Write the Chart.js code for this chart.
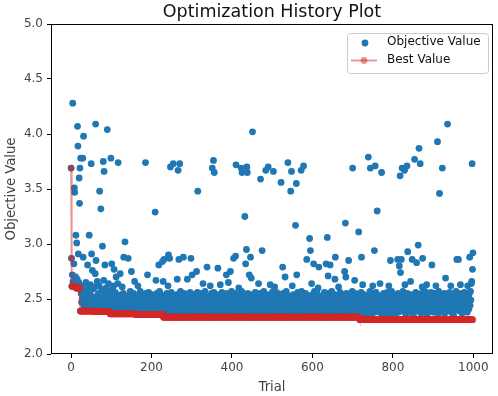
<!DOCTYPE html>
<html><head><meta charset="utf-8">
<script src="https://cdn.jsdelivr.net/npm/chart.js@4/dist/chart.umd.min.js"></script>
<style>html,body{margin:0;padding:0;background:#fff}canvas{display:block}</style>
</head><body>
<canvas id="c" width="498" height="396"></canvas>
<script>
const chartTitle = 'Optimization History Plot';
const xAxisLabel = 'Trial';
const yAxisLabel = 'Objective Value';
const seriesNames = ['Objective Value', 'Best Value'];
const xTickValues = [0, 200, 400, 600, 800, 1000];
const yTickValues = [2.0, 2.5, 3.0, 3.5, 4.0, 4.5, 5.0];

// objective value of each trial (trial number = position in the list)
const objectiveValues = [
3.69,2.87,2.615,2.72,4.28,2.66,2.64,2.82,3.51,3.47,2.63,2.70,3.08,2.60,3.01,2.68,4.07,3.89,2.91,2.65,
3.60,3.37,3.69,2.39,3.78,2.55,2.47,2.62,2.50,3.78,2.88,3.98,2.44,2.58,2.41,2.53,2.46,2.65,2.43,2.57,
2.49,2.81,2.42,2.60,2.45,3.08,2.40,2.54,2.63,2.44,3.73,2.91,2.48,2.76,2.41,2.59,2.46,2.52,2.385,2.61,
2.73,4.09,2.85,2.43,2.50,2.66,2.40,2.47,2.55,2.42,2.62,3.48,2.45,2.51,3.32,2.39,2.58,2.44,2.98,2.48,
3.75,2.67,3.66,2.53,2.81,2.41,2.46,2.60,2.43,2.50,4.04,2.57,2.40,2.64,2.45,2.52,2.42,2.365,2.55,3.78,
2.47,2.82,2.44,2.59,2.38,2.51,2.62,2.77,2.43,2.49,2.56,2.40,2.70,2.46,2.53,2.41,2.64,3.74,2.45,2.50,
2.42,2.50,2.73,2.39,2.47,2.54,2.44,2.61,2.40,2.49,2.55,2.88,2.43,2.52,3.02,2.46,2.38,2.48,2.44,2.51,
2.41,2.51,2.87,2.47,2.53,2.39,2.45,2.57,2.42,2.50,2.75,2.44,2.52,2.40,2.48,2.55,2.43,2.51,2.66,2.46,
2.36,2.52,2.44,2.50,2.41,2.49,2.62,2.38,2.46,2.54,2.43,2.50,2.57,2.40,2.47,2.54,2.42,2.53,2.45,2.39,
2.51,2.48,2.44,2.48,2.41,3.74,2.55,2.46,2.50,2.43,2.72,2.50,2.40,2.56,2.47,2.38,2.53,2.44,2.51,2.49,
2.42,2.54,2.46,2.52,2.40,2.51,2.45,2.50,2.43,3.29,2.48,2.67,2.41,2.55,2.44,2.53,2.39,2.50,2.81,2.46,
2.57,2.42,2.49,2.54,2.40,2.53,2.45,2.84,2.47,2.66,2.335,2.86,2.43,2.52,2.38,2.48,2.45,2.41,2.55,2.48,
2.40,2.62,2.90,2.44,2.51,2.87,2.37,3.70,2.47,2.56,2.42,2.49,2.52,2.39,3.73,2.45,2.53,2.36,2.50,2.43,
2.50,2.41,2.54,2.46,2.68,2.38,3.67,2.54,2.86,2.44,3.73,2.48,2.57,2.40,2.52,2.45,2.50,2.37,2.49,2.88,
2.43,2.55,2.39,2.47,2.48,2.42,2.51,2.36,2.45,2.68,2.41,2.53,2.53,2.44,2.38,2.50,2.56,2.40,2.87,2.46,
2.50,2.72,2.43,2.49,2.37,2.54,2.45,2.50,2.40,2.52,2.47,2.39,2.75,2.44,2.56,3.48,2.42,2.50,2.51,2.36,
2.48,2.41,2.55,2.45,2.48,2.38,2.51,2.43,2.64,2.47,2.40,2.53,2.44,2.57,2.37,2.49,2.50,2.42,2.79,2.46,
2.52,2.39,2.50,2.44,2.50,2.41,2.62,2.36,2.47,2.55,2.43,3.69,2.49,2.40,3.76,2.56,3.65,2.45,2.38,2.53,
2.52,2.42,2.48,2.37,2.54,2.78,2.44,2.51,2.40,2.50,2.46,2.63,2.39,2.50,2.43,2.56,2.41,2.47,2.36,2.48,
2.45,2.52,2.40,2.50,2.44,2.49,2.72,2.38,2.55,2.42,2.48,2.65,2.41,2.53,2.46,2.37,2.75,2.50,2.43,2.57,
2.40,2.51,2.53,2.44,2.87,2.47,2.39,2.55,2.42,2.89,3.72,2.49,2.36,2.50,2.45,2.52,2.41,2.60,2.46,2.38,
2.54,2.43,2.50,3.69,2.57,3.65,2.40,2.47,2.51,2.44,2.39,2.52,3.25,2.46,2.82,2.41,2.95,3.70,3.65,2.55,
2.48,2.37,2.48,2.72,2.43,2.51,2.88,2.45,2.69,2.40,2.54,4.02,2.47,2.42,2.50,2.36,2.50,2.44,2.56,2.39,
2.53,2.46,2.41,2.50,2.43,2.49,2.64,2.38,2.52,2.45,2.55,3.59,2.40,2.48,2.53,2.94,2.42,2.51,2.37,2.57,
2.44,2.50,2.52,2.41,3.67,2.47,2.54,2.39,2.45,2.50,3.70,2.43,2.52,2.36,2.49,2.63,2.40,2.46,2.55,2.42,
2.51,2.38,2.57,3.66,2.44,2.48,2.61,2.41,2.53,2.46,2.39,2.56,2.43,2.50,2.54,2.37,2.47,2.54,2.42,2.48,
2.45,2.40,3.56,2.52,2.48,2.43,2.79,2.55,2.38,2.46,2.50,2.42,2.70,2.50,2.44,2.57,2.39,2.53,2.47,3.74,
2.41,2.50,2.45,2.36,2.52,2.43,3.48,2.49,3.66,2.40,2.62,2.46,2.54,2.38,2.44,2.52,2.42,2.51,3.17,2.47,
3.55,2.72,2.43,2.56,2.39,2.50,2.45,2.51,2.41,2.53,2.37,2.48,3.67,2.57,2.44,2.40,2.52,2.46,3.71,2.48,
2.42,2.49,2.38,2.55,2.44,2.50,2.86,2.47,2.40,2.53,2.43,2.50,2.36,3.05,2.50,2.94,2.45,2.41,2.64,2.48,
2.54,2.39,2.46,2.82,2.43,2.57,2.40,2.51,2.53,2.44,2.37,2.49,2.55,2.42,2.60,2.47,2.79,2.38,2.52,2.45,
2.41,2.50,2.44,2.50,2.36,2.51,2.47,2.42,2.54,2.39,2.56,2.45,2.49,2.40,2.82,2.53,2.43,3.06,2.46,2.71,
2.38,2.55,2.44,2.52,2.81,2.41,2.50,2.47,2.57,2.37,2.43,2.52,2.54,2.45,2.40,2.54,2.68,2.88,2.42,2.49,
2.50,2.44,2.39,2.53,2.47,2.61,2.41,2.50,2.36,2.56,2.45,2.42,2.48,2.48,2.40,2.54,2.44,2.53,2.38,2.51,
2.75,2.46,3.19,2.70,2.43,2.55,2.40,2.49,2.50,2.42,2.85,2.47,2.37,2.53,2.44,2.52,2.41,2.50,2.46,2.57,
3.69,2.43,2.52,2.39,2.48,2.67,2.44,2.55,2.40,2.50,2.46,2.36,2.53,2.42,2.50,3.11,2.45,2.50,2.312,2.47,
2.41,2.56,2.88,2.43,2.50,2.63,2.37,2.45,2.54,2.40,2.48,2.48,2.35,2.44,2.52,2.42,2.50,2.47,2.39,3.79,
2.46,2.53,2.41,2.57,3.69,2.44,2.49,2.36,2.55,2.43,2.62,2.40,2.51,2.45,2.94,2.38,3.71,2.48,2.56,2.42,
2.50,3.30,2.44,2.48,2.39,2.47,2.53,2.41,2.64,2.45,2.37,2.52,3.65,2.43,2.50,2.48,2.40,2.55,2.46,2.35,
2.51,2.44,2.52,2.42,2.49,2.38,2.56,2.45,2.53,2.40,2.62,2.47,2.43,2.36,2.85,2.50,2.41,2.57,2.46,2.39,
2.54,2.43,2.48,2.50,2.40,2.52,2.45,2.37,2.50,2.44,2.50,2.42,2.86,2.55,2.38,2.47,2.80,2.53,3.62,2.74,
2.41,2.86,2.49,3.69,2.44,2.57,2.39,2.52,2.46,3.67,2.63,2.42,2.36,2.50,2.45,3.71,2.55,2.93,2.40,2.48,
2.48,2.43,2.51,2.38,2.66,2.46,2.54,2.41,2.86,2.47,2.52,2.35,2.44,2.53,3.77,2.42,2.49,2.56,2.40,2.83,
2.45,2.52,2.39,2.99,2.47,3.87,2.50,2.43,3.73,2.50,2.37,2.55,2.44,2.61,2.87,2.41,2.48,2.53,2.42,2.46,
2.57,2.40,2.51,2.44,2.63,2.36,2.49,2.45,2.54,2.42,2.48,2.47,2.39,2.52,2.43,2.56,2.41,2.81,2.48,2.44,
2.52,2.38,2.50,2.45,2.55,2.42,2.47,2.62,2.40,2.53,2.44,3.93,2.49,2.36,2.57,2.43,3.46,2.51,2.46,2.41,
2.50,2.44,2.39,3.69,2.52,2.47,2.54,2.42,2.55,2.37,2.48,2.69,2.45,2.53,2.40,2.52,4.09,2.43,2.50,2.46,
2.41,2.56,2.44,2.49,2.62,2.38,2.52,2.45,2.50,2.42,2.47,2.35,2.54,2.43,2.50,2.48,2.40,2.57,2.45,2.86,
2.50,2.42,2.48,2.86,2.44,2.53,2.39,2.47,2.63,2.41,2.55,2.46,2.37,2.51,2.44,2.52,2.42,2.49,2.56,2.40,
2.48,2.53,2.43,2.50,2.45,2.38,2.62,2.47,2.52,2.41,2.55,2.88,2.44,2.57,2.49,2.64,2.66,3.73,2.77,2.92
];

const trialNumbers = objectiveValues.map((_, i) => i);
// best value so far = running minimum of the objective values
const bestValues = [];
{ let cur = Infinity; for (const v of objectiveValues) { cur = Math.min(cur, v); bestValues.push(cur); } }

const FONT = "'DejaVu Sans', 'Liberation Sans', sans-serif";
const BLUE = '#1f77b4';
const RED_A = 'rgba(214,39,40,0.5)';

const decorPlugin = {
  id: 'decor',
  beforeDraw(chart) {
    const ctx = chart.ctx;
    ctx.save();
    ctx.fillStyle = '#fff';
    ctx.fillRect(0, 0, chart.width, chart.height);
    ctx.restore();
  },
  afterDraw(chart) {
    const ctx = chart.ctx, a = chart.chartArea;
    ctx.save();
    ctx.strokeStyle = '#000';
    ctx.lineWidth = 1;
    const l = Math.floor(a.left) + 0.5, r = Math.round(a.right) - 0.5;
    const t = Math.floor(a.top) + 0.5, b = Math.round(a.bottom) - 0.5;
    ctx.strokeRect(l, t, r - l, b - t);
    ctx.fillStyle = '#111';
    ctx.font = '17.5px ' + FONT;
    ctx.textAlign = 'center';
    ctx.textBaseline = 'alphabetic';
    ctx.fillText(chartTitle, (a.left + a.right) / 2, 17);
    const bx = 347, by = 33, bw = 141, bh = 40;
    ctx.beginPath();
    ctx.roundRect(bx + 0.5, by + 0.5, bw, bh, 3);
    ctx.fillStyle = 'rgba(255,255,255,0.8)';
    ctx.fill();
    ctx.strokeStyle = '#cccccc';
    ctx.stroke();
    ctx.fillStyle = BLUE;
    ctx.beginPath(); ctx.arc(365, 43, 3.4, 0, Math.PI * 2); ctx.fill();
    ctx.strokeStyle = RED_A; ctx.lineWidth = 1.8;
    ctx.beginPath(); ctx.moveTo(351, 60.5); ctx.lineTo(377, 60.5); ctx.stroke();
    ctx.fillStyle = RED_A;
    ctx.beginPath(); ctx.arc(364, 60.5, 3.4, 0, Math.PI * 2); ctx.fill();
    ctx.fillStyle = '#111';
    ctx.font = '12px ' + FONT;
    ctx.textAlign = 'left';
    ctx.textBaseline = 'middle';
    ctx.fillText(seriesNames[0], 387, 42);
    ctx.fillText(seriesNames[1], 387, 60);
    ctx.restore();
  }
};

new Chart(document.getElementById('c'), {
  type: 'scatter',
  data: {
    datasets: [
      {
        type: 'line',
        label: seriesNames[1],
        data: trialNumbers.map((x, i) => ({ x, y: bestValues[i] })),
        borderColor: RED_A,
        borderWidth: 1.8,
        pointRadius: 3.4,
        pointBackgroundColor: RED_A,
        pointBorderWidth: 0,
        pointHoverRadius: 3.4,
        tension: 0,
        fill: false,
        order: 0
      },
      {
        type: 'scatter',
        label: seriesNames[0],
        data: trialNumbers.map((x, i) => ({ x, y: objectiveValues[i] })),
        backgroundColor: BLUE,
        borderWidth: 0,
        pointRadius: 3.4,
        pointHoverRadius: 3.4,
        order: 1
      }
    ]
  },
  options: {
    responsive: false,
    animation: false,
    devicePixelRatio: 1,
    events: [],
    layout: { padding: { top: 24, right: 5, left: 0, bottom: 0 } },
    plugins: { legend: { display: false }, title: { display: false }, tooltip: { enabled: false } },
    scales: {
      x: {
        type: 'linear',
        min: -49.95,
        max: 1048.95,
        afterBuildTicks(s) { s.ticks = xTickValues.map(v => ({ value: v })); },
        afterFit(s) { s.height = 42; },
        ticks: { color: '#444', font: { family: FONT, size: 12 }, padding: 3, maxRotation: 0, autoSkip: false,
                 callback: v => String(v) },
        grid: { drawOnChartArea: false, drawTicks: true, tickLength: 4, color: '#000', lineWidth: 1 },
        border: { display: false },
        title: { display: true, text: xAxisLabel, color: '#444', font: { family: FONT, size: 13.2 }, padding: { top: 0, bottom: 1 } }
      },
      y: {
        type: 'linear',
        min: 2.0,
        max: 5.0,
        afterBuildTicks(s) { s.ticks = yTickValues.map(v => ({ value: v })); },
        afterFit(s) { s.width = 51; },
        ticks: { color: '#444', font: { family: FONT, size: 12 }, padding: 4, autoSkip: false,
                 callback: v => Number(v).toFixed(1) },
        grid: { drawOnChartArea: false, drawTicks: true, tickLength: 4, color: '#000', lineWidth: 1 },
        border: { display: false },
        title: { display: true, text: yAxisLabel, color: '#444', font: { family: FONT, size: 13.2 }, padding: { top: 4, bottom: 0 } }
      }
    }
  },
  plugins: [decorPlugin]
});
</script>
</body></html>
